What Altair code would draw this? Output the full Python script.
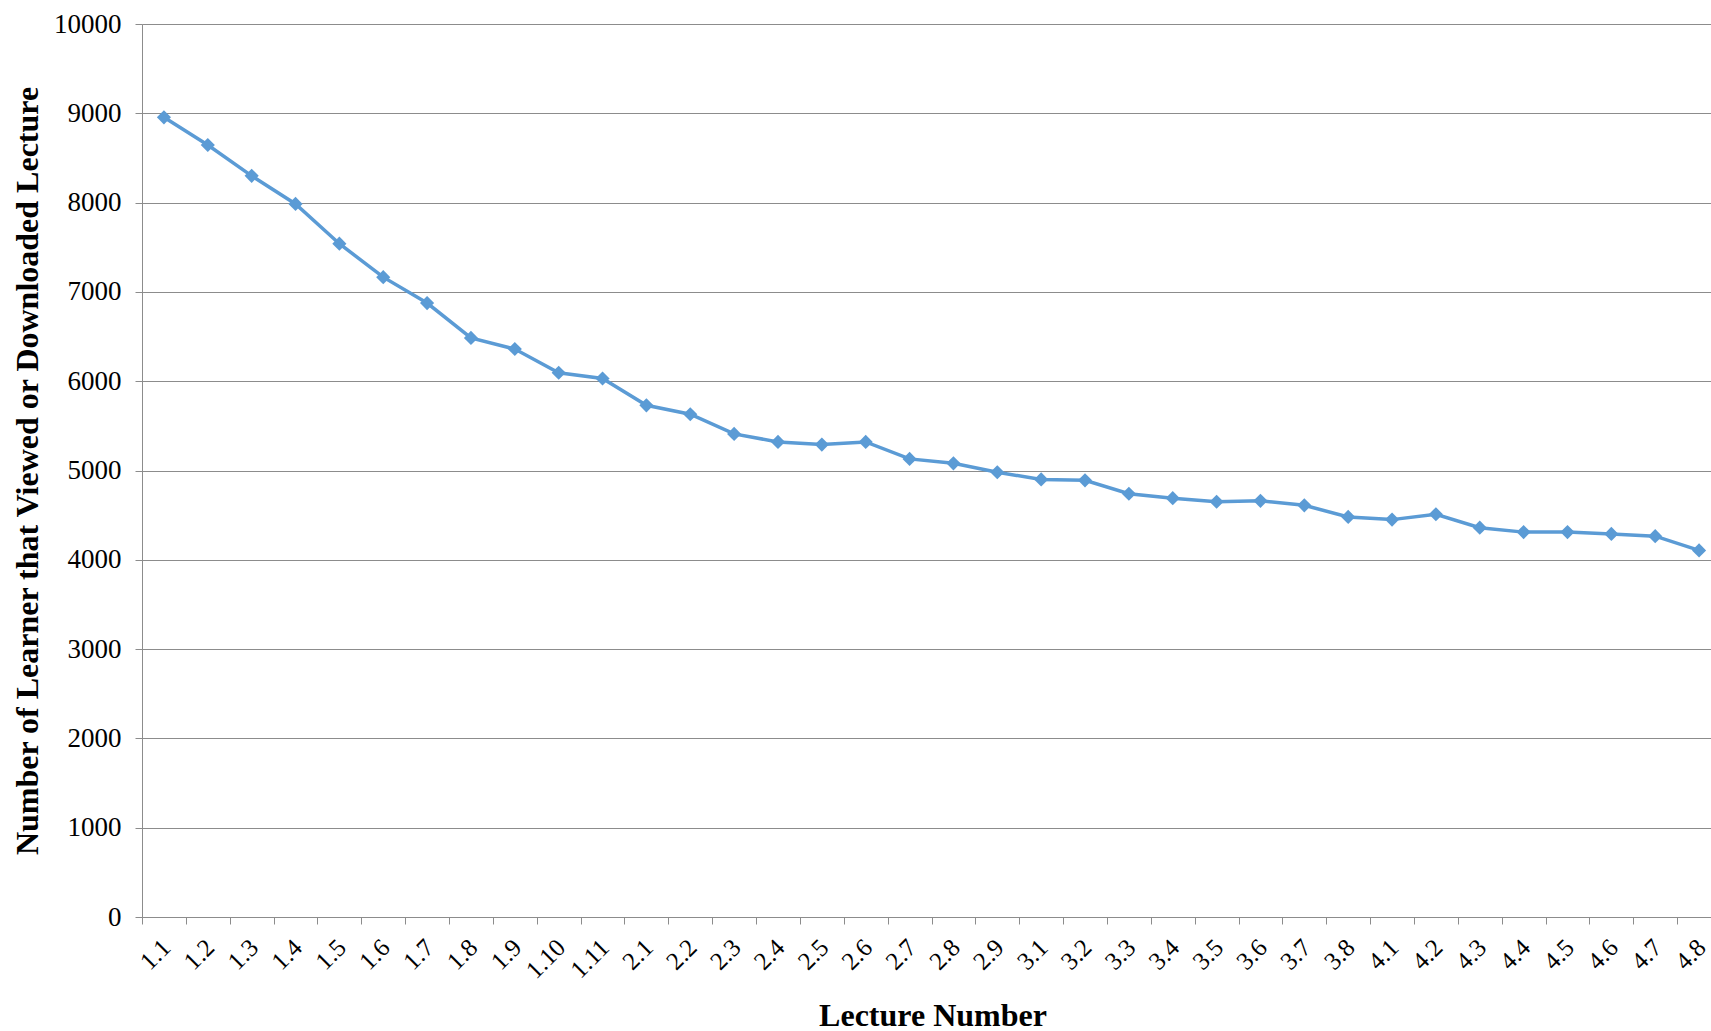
import altair as alt
import pandas as pd

lectures = ["1.1", "1.2", "1.3", "1.4", "1.5", "1.6", "1.7", "1.8", "1.9", "1.10", "1.11",
            "2.1", "2.2", "2.3", "2.4", "2.5", "2.6", "2.7", "2.8", "2.9",
            "3.1", "3.2", "3.3", "3.4", "3.5", "3.6", "3.7", "3.8",
            "4.1", "4.2", "4.3", "4.4", "4.5", "4.6", "4.7", "4.8"]
learners = [8955, 8645, 8300, 7985, 7540, 7165, 6875, 6485, 6360, 6095, 6030,
            5730, 5630, 5410, 5320, 5290, 5320, 5130, 5080, 4980,
            4900, 4890, 4740, 4690, 4650, 4660, 4610, 4480,
            4450, 4510, 4360, 4310, 4310, 4290, 4265, 4105]
y_ticks = [0, 1000, 2000, 3000, 4000, 5000, 6000, 7000, 8000, 9000, 10000]

df = pd.DataFrame({"lecture": lectures, "learners": learners})

FONT = "Liberation Serif"
GRID = "#8c8c8c"
BLUE = "#5b9bd5"

W = 1569
H = 893
XR = 1579

chart = alt.Chart(df).mark_line(
    color=BLUE, strokeWidth=3.5,
    point=alt.OverlayMarkDef(shape="diamond", size=200, color=BLUE, filled=True, opacity=1),
).encode(
    x=alt.X("lecture:N", sort=lectures, bandPosition=0.5,
            scale=alt.Scale(type="band", paddingInner=0, paddingOuter=0, range=[0, XR]),
            axis=alt.Axis(title="Lecture Number", labelAngle=-45, labelAlign="right",
                          labelBaseline="middle", labelPadding=19, labelFontSize=25,
                          labelOffset=2,
                          labelFont=FONT, labelColor="black", tickBand="extent",
                          tickSize=7, tickColor=GRID, domainColor=GRID, grid=False,
                          titleFont=FONT, titleFontSize=32, titleFontWeight="bold",
                          titleColor="black", titleX=W / 2 + 6, titleY=98,
                          titleBaseline="middle", titleAlign="center")),
    y=alt.Y("learners:Q",
            scale=alt.Scale(domain=[0, 10000], nice=False),
            axis=alt.Axis(title="Number of Learner that Viewed or Downloaded Lecture",
                          values=y_ticks, format="d", labelFontSize=27, labelFont=FONT,
                          labelColor="black", labelPadding=14, tickSize=7,
                          tickColor=GRID, domainColor=GRID, grid=True, gridColor=GRID,
                          gridWidth=1, titleFont=FONT, titleFontSize=32,
                          titleFontWeight="bold", titleColor="black", titleX=-115,
                          titleY=H / 2, titleAngle=-90, titleBaseline="middle",
                          titleAlign="center")),
).properties(
    width=W, height=H,
    autosize=alt.AutoSizeParams(type="none"),
    padding={"left": 142, "top": 24, "right": 0, "bottom": 114},
).configure_view(stroke=None).configure(background="white")

chart.save("out.html", embed_options={"renderer": "svg", "actions": False})
